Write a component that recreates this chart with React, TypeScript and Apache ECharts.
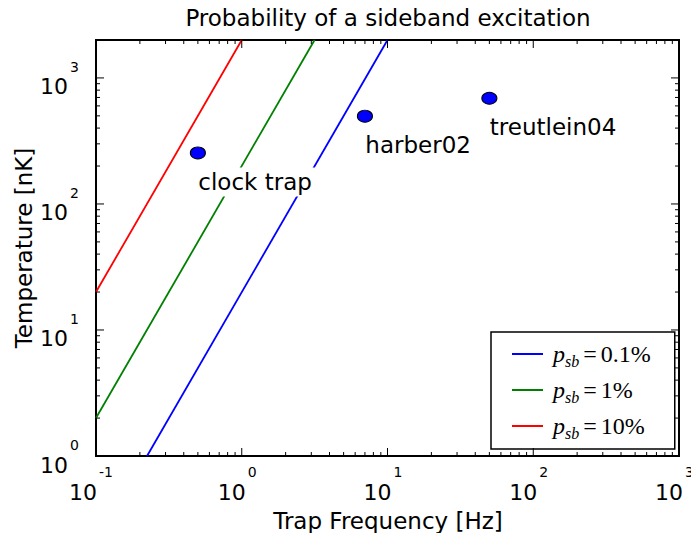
import React, { useEffect, useRef } from "react";
import * as echarts from "echarts";

const FONT = "DejaVu Sans";
const MATH = "Liberation Serif";

const X_MIN = 0.1;
const X_MAX = 1000;
const Y_MIN = 1;
const Y_MAX = 2000;

const xMajorTicks = [0.1, 1, 10, 100, 1000];
const xTickExponents = ["-1", "0", "1", "2", "3"];
const xMinorTicks = [
  0.2, 0.3, 0.4, 0.5, 0.6, 0.7, 0.8, 0.9,
  2, 3, 4, 5, 6, 7, 8, 9,
  20, 30, 40, 50, 60, 70, 80, 90,
  200, 300, 400, 500, 600, 700, 800, 900,
];
const yMajorTicks = [1, 10, 100, 1000];
const yTickExponents = ["0", "1", "2", "3"];
const yMinorTicks = [
  2, 3, 4, 5, 6, 7, 8, 9,
  20, 30, 40, 50, 60, 70, 80, 90,
  200, 300, 400, 500, 600, 700, 800, 900,
];

const lineNames = ["p_sb=0.1%", "p_sb=1%", "p_sb=10%"];
const lineValueLabels = ["0.1%", "1%", "10%"];
const lineColors = ["#0000ff", "#008000", "#ff0000"];
const blueFreq = [0.224, 10];
const blueTemp = [1, 2000];
const greenFreq = [0.1, 3.16];
const greenTemp = [2, 2000];
const redFreq = [0.1, 1];
const redTemp = [20, 2000];

const pointNames = ["clock trap", "harber02", "treutlein04"];
const pointFreq = [0.5, 7, 50];
const pointTemp = [254, 497, 690];

const zip = (xs: number[], ys: number[]) => xs.map((x, i) => [x, ys[i]]);

export default function App() {
  const ref = useRef<HTMLDivElement>(null);

  useEffect(() => {
    if (!ref.current) return;
    const chart = echarts.init(ref.current, null, { renderer: "svg" });

    const xTickData = [
      ...xMajorTicks.map((v, i) => [v, Y_MIN, 1, i]),
      ...xMinorTicks.map((v) => [v, Y_MIN, 0, -1]),
    ];
    const yTickData = [
      ...yMajorTicks.map((v, i) => [X_MIN, v, 1, i]),
      ...yMinorTicks.map((v) => [X_MIN, v, 0, -1]),
    ];

    const tickStyle = { stroke: "#000", lineWidth: 1 };

    const lineSeries = [
      [blueFreq, blueTemp],
      [greenFreq, greenTemp],
      [redFreq, redTemp],
    ].map(([fx, ty], i) => ({
      type: "line",
      name: lineNames[i],
      data: zip(fx, ty),
      symbol: "none",
      showSymbol: false,
      lineStyle: { color: lineColors[i], width: 1.8 },
      itemStyle: { color: lineColors[i] },
      clip: true,
      z: 2,
    }));

    const option: any = {
      animation: false,
      backgroundColor: "#fff",
      grid: {
        left: 96,
        top: 40,
        width: 583,
        height: 416,
        show: true,
        borderColor: "#000",
        borderWidth: 2,
        backgroundColor: "#fff",
      },
      xAxis: {
        type: "log",
        logBase: 10,
        min: X_MIN,
        max: X_MAX,
        axisLine: { show: false },
        axisTick: { show: false },
        axisLabel: { show: false },
        splitLine: { show: false },
      },
      yAxis: {
        type: "log",
        logBase: 10,
        min: Y_MIN,
        max: Y_MAX,
        axisLine: { show: false },
        axisTick: { show: false },
        axisLabel: { show: false },
        splitLine: { show: false },
      },
      legend: {
        data: lineNames,
        orient: "vertical",
        left: 491,
        top: 332,
        padding: [10, 24, 8, 20],
        itemGap: 9,
        itemWidth: 31,
        itemHeight: 14,
        backgroundColor: "#fff",
        borderColor: "#000",
        borderWidth: 1.5,
        borderRadius: 0,
        selectedMode: false,
        itemStyle: { color: "rgba(0,0,0,0)", borderColor: "rgba(0,0,0,0)", borderWidth: 0, opacity: 0 },
        formatter: (name: string) => {
          const i = lineNames.indexOf(name);
          return `{p|p}{s|sb}{e|=}{t|${lineValueLabels[i]}}`;
        },
        textStyle: {
          color: "#000",
          rich: {
            p: { fontFamily: MATH, fontStyle: "italic", fontSize: 24, lineHeight: 30, verticalAlign: "middle", padding: [0, 0, 0, 5], color: "#000" },
            s: { fontFamily: MATH, fontStyle: "italic", fontSize: 16, lineHeight: 30, verticalAlign: "bottom", color: "#000" },
            e: { fontFamily: MATH, fontSize: 24, lineHeight: 30, verticalAlign: "middle", padding: [0, 4, 0, 4], color: "#000" },
            t: { fontFamily: MATH, fontSize: 24, lineHeight: 30, verticalAlign: "middle", color: "#000" },
          },
        },
      },
      graphic: [
        {
          type: "text",
          x: 388,
          y: 18,
          style: { text: "Probability of a sideband excitation", fontFamily: FONT, fontSize: 23, fill: "#000", align: "center", verticalAlign: "middle" },
        },
        {
          type: "text",
          x: 388,
          y: 521,
          style: { text: "Trap Frequency [Hz]", fontFamily: FONT, fontSize: 23, fill: "#000", align: "center", verticalAlign: "middle" },
        },
        {
          type: "text",
          x: 24,
          y: 248,
          rotation: Math.PI / 2,
          style: { text: "Temperature [nK]", fontFamily: FONT, fontSize: 23, fill: "#000", align: "center", verticalAlign: "middle" },
        },
      ],
      series: [
        ...lineSeries,
        {
          type: "scatter",
          name: "points",
          data: pointFreq.map((f, i) => ({ value: [f, pointTemp[i]], name: pointNames[i] })),
          symbol: "circle",
          symbolSize: [15, 12],
          itemStyle: { color: "#0000ff", borderColor: "#000", borderWidth: 1, opacity: 1 },
          z: 3,
          label: {
            show: true,
            formatter: (p: any) => p.name,
            position: [5.5, 21],
            align: "left",
            verticalAlign: "top",
            fontFamily: FONT,
            fontSize: 23,
            color: "#000",
            backgroundColor: "#fff",
            padding: [3, 3, 3, 3],
          },
        },
        {
          type: "custom",
          name: "xticks",
          data: xTickData,
          clip: false,
          silent: true,
          z: 5,
          renderItem: (params: any, api: any) => {
            const v = api.value(0);
            const major = api.value(2) === 1;
            const idx = api.value(3);
            const b = api.coord([v, Y_MIN]);
            const t = api.coord([v, Y_MAX]);
            const len = major ? 8 : 4;
            const children: any[] = [
              { type: "line", shape: { x1: b[0], y1: b[1], x2: b[0], y2: b[1] - len }, style: tickStyle },
              { type: "line", shape: { x1: t[0], y1: t[1], x2: t[0], y2: t[1] + len }, style: tickStyle },
            ];
            if (major) {
              const exp = xTickExponents[idx];
              const x0 = b[0] + (exp.length > 1 ? 1 : 4);
              children.push({
                type: "text",
                style: { text: "10", x: x0, y: b[1] + 36, align: "right", verticalAlign: "middle", fontFamily: FONT, fontSize: 22, fill: "#000" },
              });
              children.push({
                type: "text",
                style: { text: exp, x: x0 + 2, y: b[1] + 16, align: "left", verticalAlign: "middle", fontFamily: FONT, fontSize: 14, fill: "#000" },
              });
            }
            return { type: "group", children };
          },
        },
        {
          type: "custom",
          name: "yticks",
          data: yTickData,
          clip: false,
          silent: true,
          z: 5,
          renderItem: (params: any, api: any) => {
            const v = api.value(1);
            const major = api.value(2) === 1;
            const idx = api.value(3);
            const l = api.coord([X_MIN, v]);
            const r = api.coord([X_MAX, v]);
            const len = major ? 8 : 4;
            const children: any[] = [
              { type: "line", shape: { x1: l[0], y1: l[1], x2: l[0] + len, y2: l[1] }, style: tickStyle },
              { type: "line", shape: { x1: r[0], y1: r[1], x2: r[0] - len, y2: r[1] }, style: tickStyle },
            ];
            if (major) {
              const exp = yTickExponents[idx];
              children.push({
                type: "text",
                style: { text: "10", x: l[0] - 28, y: l[1] + 9, align: "right", verticalAlign: "middle", fontFamily: FONT, fontSize: 22, fill: "#000" },
              });
              children.push({
                type: "text",
                style: { text: exp, x: l[0] - 26, y: l[1] - 11, align: "left", verticalAlign: "middle", fontFamily: FONT, fontSize: 14, fill: "#000" },
              });
            }
            return { type: "group", children };
          },
        },
      ],
    };

    chart.setOption(option);
    return () => chart.dispose();
  }, []);

  return (
    <div
      ref={ref}
      style={{ position: "absolute", left: 0, top: 0, width: 691, height: 533 }}
    />
  );
}
